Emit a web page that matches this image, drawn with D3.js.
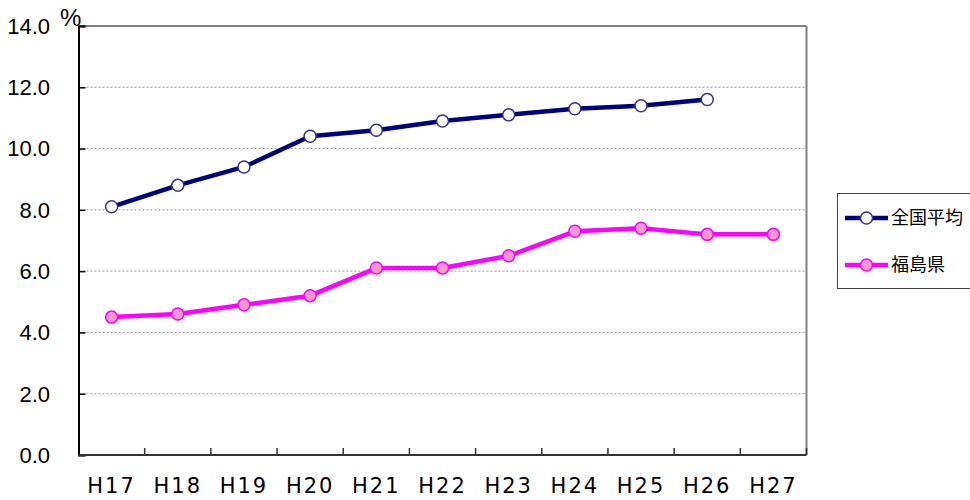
<!DOCTYPE html>
<html>
<head>
<meta charset="utf-8">
<script src="https://cdn.jsdelivr.net/npm/d3@7"></script>
<style>
  html, body { margin: 0; padding: 0; background: #fff; }
  svg { display: block; }
  text { font-family: "Liberation Sans", Arial, sans-serif; fill: #000; }
  .jp { font-family: "Noto Sans CJK JP", sans-serif; }
  .xl { font-family: "DejaVu Sans", sans-serif; }
</style>
</head>
<body>
<svg id="chart" width="970" height="500"></svg>
<script>
// Fiscal years (Heisei)
const years = ["H17", "H18", "H19", "H20", "H21", "H22", "H23", "H24", "H25", "H26", "H27"];
// National average (%)
const nationalAvg = [8.1, 8.8, 9.4, 10.4, 10.6, 10.9, 11.1, 11.3, 11.4, 11.6, null];
// Fukushima Prefecture (%)
const fukushima = [4.5, 4.6, 4.9, 5.2, 6.1, 6.1, 6.5, 7.3, 7.4, 7.2, 7.2];
const yTicks = [0, 2, 4, 6, 8, 10, 12, 14];
const seriesNames = ["全国平均", "福島県"];

const svg = d3.select("#chart");
const plot = { left: 78.5, right: 806.5, top: 26, bottom: 455 };

const x = d3.scaleBand().domain(years).range([plot.left, plot.right]);
const y = d3.scaleLinear().domain([0, 14]).range([plot.bottom, plot.top]);

// dashed gridlines
svg.append("g")
  .selectAll("line")
  .data(yTicks.filter(t => t > 0 && t < 14))
  .join("line")
  .attr("x1", plot.left).attr("x2", plot.right)
  .attr("y1", d => y(d)).attr("y2", d => y(d))
  .attr("stroke", "#9a9a9a").attr("stroke-width", 1)
  .attr("stroke-dasharray", "2,2");

// top and right frame
svg.append("line").attr("x1", plot.left).attr("x2", plot.right)
  .attr("y1", y(14)).attr("y2", y(14))
  .attr("stroke", "#808080").attr("stroke-width", 2);
svg.append("line").attr("x1", plot.right).attr("x2", plot.right)
  .attr("y1", y(14)).attr("y2", plot.bottom)
  .attr("stroke", "#808080").attr("stroke-width", 2);

// y axis (inward ticks)
const yAxis = svg.append("g")
  .attr("transform", `translate(${plot.left},0)`)
  .call(d3.axisRight(y).tickValues(yTicks).tickSize(7).tickFormat(""));
yAxis.select(".domain").attr("stroke", "#000").attr("stroke-width", 2);
yAxis.selectAll(".tick line").attr("stroke", "#000").attr("stroke-width", 1.5);

svg.append("g").selectAll("text")
  .data(yTicks)
  .join("text")
  .attr("x", 50).attr("y", d => y(d))
  .attr("dy", "0.36em")
  .attr("text-anchor", "end")
  .attr("font-size", 22)
  .text(d => d.toFixed(1));

svg.append("text")
  .attr("x", 60).attr("y", 26)
  .attr("font-size", 24)
  .text("%");

// x axis: ticks on band boundaries, pointing up
const bounds = years.map(d => x(d)).concat([plot.right]);
svg.append("line")
  .attr("x1", plot.left).attr("x2", plot.right)
  .attr("y1", plot.bottom).attr("y2", plot.bottom)
  .attr("stroke", "#333").attr("stroke-width", 2);
svg.append("g").selectAll("line")
  .data(bounds.slice(1))
  .join("line")
  .attr("x1", d => d).attr("x2", d => d)
  .attr("y1", plot.bottom).attr("y2", plot.bottom - 7)
  .attr("stroke", "#333").attr("stroke-width", 1.5);

svg.append("g").selectAll("text")
  .data(years)
  .join("text")
  .attr("class", "xl")
  .attr("x", d => x(d) + x.bandwidth() / 2)
  .attr("y", 493)
  .attr("text-anchor", "middle")
  .attr("font-size", 21)
  .attr("letter-spacing", "2px")
  .text(d => d);

// series
const series = [
  { name: seriesNames[0], values: nationalAvg, line: "#000080", fill: "#ffffff", stroke: "#333399" },
  { name: seriesNames[1], values: fukushima, line: "#ff00ff", fill: "#ff99cc", stroke: "#ff00ff" }
];

const lineGen = d3.line()
  .defined(d => d.v != null)
  .x(d => x(d.k) + x.bandwidth() / 2)
  .y(d => y(d.v));

series.forEach(s => {
  const pts = years.map((k, i) => ({ k, v: s.values[i] }));
  svg.append("path")
    .datum(pts)
    .attr("d", lineGen)
    .attr("fill", "none")
    .attr("stroke", s.line)
    .attr("stroke-width", 4.5)
    .attr("stroke-linejoin", "round");
  svg.append("g").selectAll("circle")
    .data(pts.filter(d => d.v != null))
    .join("circle")
    .attr("cx", d => x(d.k) + x.bandwidth() / 2)
    .attr("cy", d => y(d.v))
    .attr("r", 6)
    .attr("fill", s.fill)
    .attr("stroke", s.stroke)
    .attr("stroke-width", 1.5);
});

// legend
const legend = svg.append("g");
legend.append("rect")
  .attr("x", 837.5).attr("y", 193.5)
  .attr("width", 140).attr("height", 95)
  .attr("fill", "#fff").attr("stroke", "#444").attr("stroke-width", 1);
series.forEach((s, i) => {
  const ly = 218 + i * 47;
  legend.append("line")
    .attr("x1", 845).attr("x2", 888).attr("y1", ly).attr("y2", ly)
    .attr("stroke", s.line).attr("stroke-width", 4.5);
  legend.append("circle")
    .attr("cx", 866.5).attr("cy", ly).attr("r", 6)
    .attr("fill", s.fill).attr("stroke", s.stroke).attr("stroke-width", 1.5);
  legend.append("text")
    .attr("class", "jp")
    .attr("x", 891).attr("y", ly)
    .attr("dy", "0.36em")
    .attr("font-size", 18)
    .text(s.name);
});
</script>
</body>
</html>
